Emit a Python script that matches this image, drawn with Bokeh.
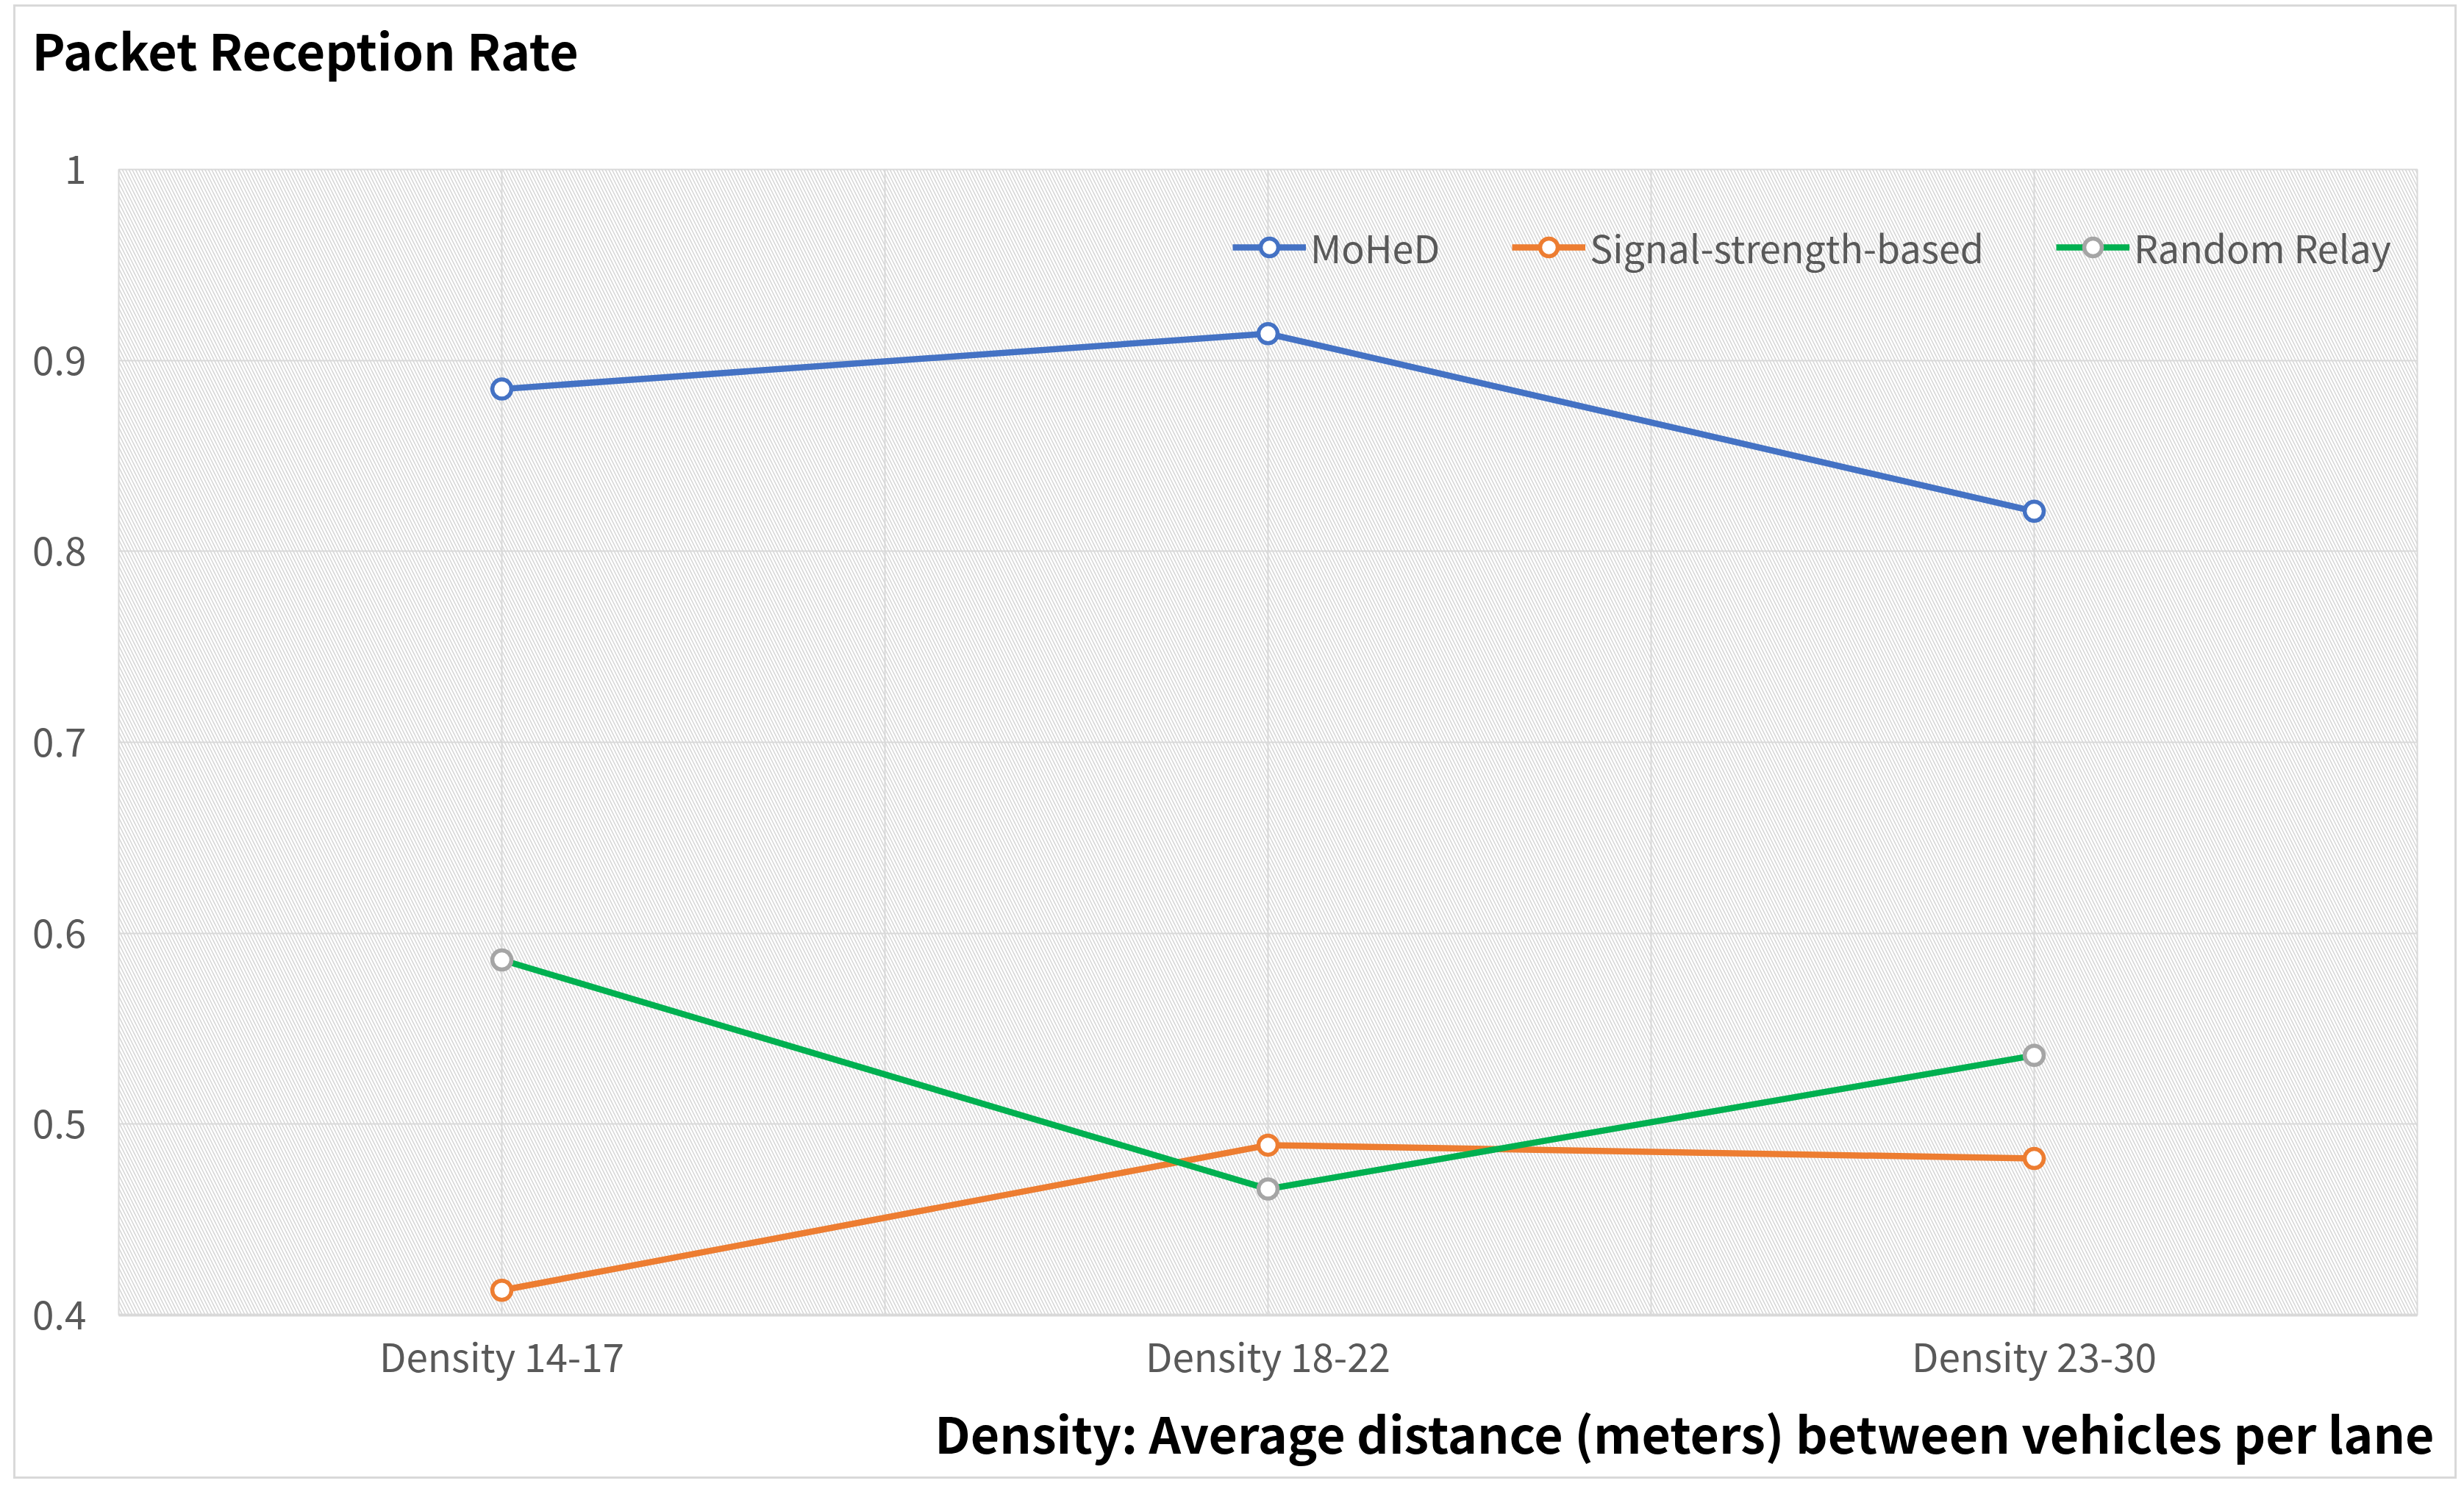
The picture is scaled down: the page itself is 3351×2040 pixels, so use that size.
from bokeh.plotting import figure
from bokeh.models import (ColumnDataSource, FixedTicker, Grid, Legend,
                          LegendItem, BoxAnnotation, Title)
from bokeh.embed import file_html
from bokeh.resources import INLINE

# ---- data ----
categories = ["Density 14-17", "Density 18-22", "Density 23-30"]
moh = [0.885, 0.914, 0.821]
sig = [0.413, 0.489, 0.482]
rnd = [0.586, 0.466, 0.536]
series_names = ["MoHeD", "Signal-strength-based", "Random Relay"]
y_ticks = [0.4, 0.5, 0.6, 0.7, 0.8, 0.9, 1.0]
y_tick_labels = ["0.4", "0.5", "0.6", "0.7", "0.8", "0.9", "1"]
title_text = "Packet Reception Rate"
xlabel_text = "Density: Average distance (meters) between vehicles per lane"

FONT = "Noto Sans CJK SC"
GRID = "#d9d9d9"
TXT = "#595959"

W, H = 3323, 2005
p = figure(x_range=categories, y_range=(0.4, 1.0), width=W, height=H,
           output_backend="svg", toolbar_location=None, title=None,
           min_border_left=140, min_border_right=57,
           min_border_top=221, min_border_bottom=226,
           styles={"border": "3px solid #d9d9d9", "margin-left": "18px",
                   "margin-top": "6px"})
p.background_fill_color = "white"
p.border_fill_color = "white"
p.outline_line_color = GRID
p.outline_line_width = 2

# titles: a thin spacer next to the frame, then the chart title above it
p.add_layout(Title(text=" ", text_font_size="1px", standoff=109.5), "above")
p.add_layout(Title(text=title_text, align="left", offset=-118, standoff=0,
                   vertical_align="top",
                   text_font=FONT, text_font_size="68px",
                   text_font_style="bold", text_color="black"), "above")
p.add_layout(Title(text=xlabel_text, align="right", offset=-23, standoff=28,
                   vertical_align="top",
                   text_font=FONT, text_font_size="68px",
                   text_font_style="bold", text_color="black"), "below")

# hatched plot-area background
p.add_layout(BoxAnnotation(fill_alpha=0, line_color=None,
                           hatch_pattern="\\", hatch_color="#d6d6d6",
                           hatch_scale=9, hatch_weight=1.5, level="image"))

# grids
p.ygrid.ticker = FixedTicker(ticks=y_ticks)
p.ygrid.grid_line_color = GRID
p.ygrid.grid_line_width = 2
p.xgrid.grid_line_color = GRID
p.xgrid.grid_line_width = 2
p.add_layout(Grid(dimension=0, ticker=FixedTicker(ticks=[1, 2]),
                  grid_line_color=GRID, grid_line_width=2))

# axes
p.yaxis.ticker = FixedTicker(ticks=y_ticks)
p.yaxis.major_label_overrides = {t: l for t, l in zip(y_ticks, y_tick_labels)}
p.yaxis.axis_line_color = None
p.yaxis.major_tick_line_color = None
p.yaxis.minor_tick_line_color = None
p.yaxis.major_label_standoff = 38
p.xaxis.axis_line_color = GRID
p.xaxis.axis_line_width = 4
p.xaxis.major_tick_line_color = None
p.xaxis.major_label_standoff = 10
for ax in (p.xaxis, p.yaxis):
    ax.major_label_text_font = FONT
    ax.major_label_text_font_size = "53px"
    ax.major_label_text_color = TXT

src = ColumnDataSource(dict(x=categories, moh=moh, sig=sig, rnd=rnd))
styles = [("moh", "#4472C4", "#4472C4"),
          ("sig", "#ED7D31", "#ED7D31"),
          ("rnd", "#00B050", "#A5A5A5")]
items = []
for (col, lc, mc), name in zip(styles, series_names):
    lr = p.line("x", col, source=src, line_color=lc, line_width=8.5)
    sr = p.scatter("x", col, source=src, marker="circle", size=26,
                   fill_color="white", line_color=mc, line_width=5.5)
    items.append(LegendItem(label=name, renderers=[lr, sr]))

legend = Legend(items=items, orientation="horizontal", location=(1515, 1415),
                padding=0, margin=0, spacing=98, glyph_width=100,
                glyph_height=60, label_height=60, label_standoff=6,
                label_text_font=FONT, label_text_font_size="52px",
                label_text_color=TXT, background_fill_alpha=0,
                border_line_color=None)
p.add_layout(legend)

open("out.html", "w").write(file_html(p, INLINE))
